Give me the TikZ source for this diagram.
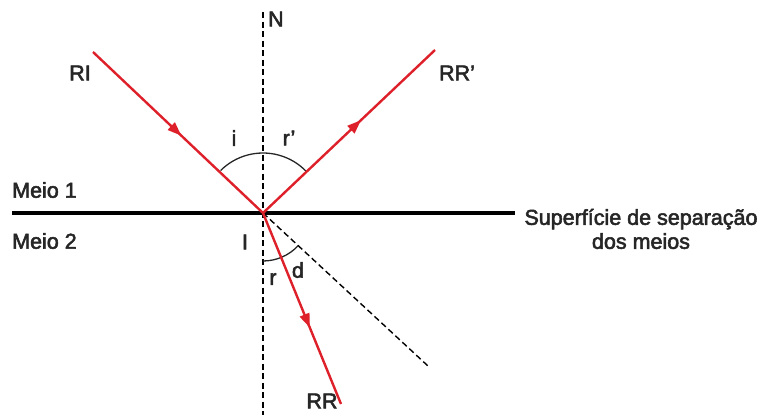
\documentclass[tikz,border=0pt]{standalone}
\usepackage{fontspec}
\setmainfont{Liberation Sans}[FakeBold=2.5]
\usetikzlibrary{arrows.meta,decorations.markings}
\definecolor{ray}{RGB}{222,32,42}
\begin{document}
\begin{tikzpicture}[x=1pt,y=-1pt,
  lbl/.style={inner sep=0pt,font=\fontsize{21.5}{24}\selectfont,text=black!85},
  raystyle/.style={draw=ray,line width=2.4pt},
  midarrow/.style={postaction={decorate},decoration={markings,mark=at position #1 with {\arrow{Triangle[length=14pt,width=10pt]}}}},
  normalline/.style={line width=1.4pt,dash pattern=on 6pt off 3.5pt},
  anglearc/.style={line width=1.3pt,black!85}]
\useasboundingbox (0,0) rectangle (769,415);
\coordinate (I) at (263,213);
\coordinate (Ntop) at (263,12);
\coordinate (Nbot) at (263,415);
\coordinate (RIs) at (93,52);
\coordinate (RRpe) at (435,50);
\coordinate (RRe) at (341,404);
\coordinate (De) at (428,366);
\coordinate (SL) at (12,213);
\coordinate (SR) at (515,213);
% normal
\draw[normalline] (Ntop) -- (Nbot);
% surface
\draw[line width=3.2pt] (SL) -- (SR);
% dashed extension
\draw[normalline] (I) -- (De);
% arcs (y axis points down: angles are mirrored)
\draw[anglearc] (I) ++(225:60) arc[start angle=225,end angle=317,radius=60];
\draw[anglearc] (I) ++(90:48) arc[start angle=90,end angle=43,radius=48];
% rays
\draw[raystyle,midarrow=0.52] (RIs) -- (I);
\draw[raystyle,midarrow=0.57] (I) -- (RRpe);
\draw[raystyle,midarrow=0.6] (I) -- (RRe);
% labels
\node[lbl,anchor=west] (N) at (268,19) {N};
\node[lbl] (RI) at (80,73) {RI};
\node[lbl] (RRp) at (457,73) {RR’};
\node[lbl] (RR) at (322,401) {RR};
\node[lbl] (i) at (234,138) {i};
\node[lbl] (rp) at (289,138) {r’};
\node[lbl] (Il) at (245,242) {I};
\node[lbl] (r) at (273,279) {r};
\node[lbl] (d) at (298,270) {d};
\node[lbl,anchor=west] (m1) at (12,190) {Meio 1};
\node[lbl,anchor=west] (m2) at (12,241) {Meio 2};
\node[lbl,align=center] (sup) at (641,229) {Superfície de separação\\dos meios};
\end{tikzpicture}
\end{document}
